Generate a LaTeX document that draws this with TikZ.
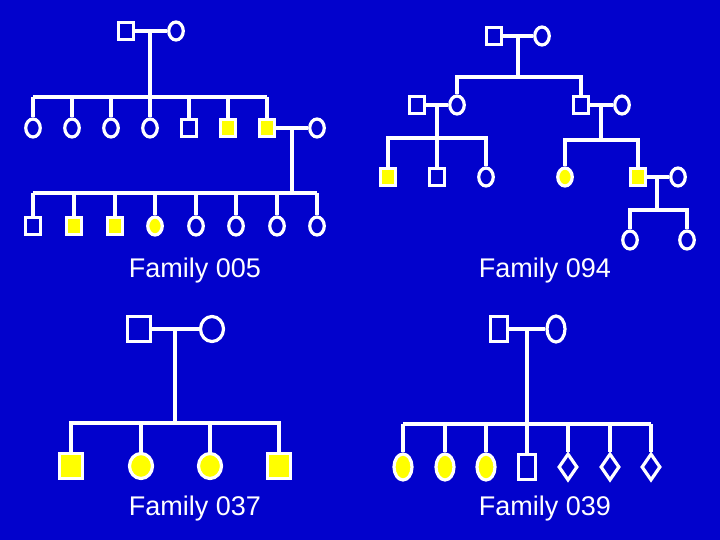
\documentclass[tikz,border=0pt]{standalone}
\usepackage{fontspec}
\setmainfont{Liberation Sans}
\usetikzlibrary{shapes.geometric}
\definecolor{bgblue}{RGB}{2,2,204}
\definecolor{aff}{RGB}{255,255,0}
\tikzset{
  ln/.style={draw=white, line width=3.2pt},
  sym/.style={ln, inner sep=0pt, fill=bgblue},
  sqA/.style={sym, rectangle, minimum width=15pt, minimum height=17pt},
  ciA/.style={sym, ellipse, minimum width=14.5pt, minimum height=18pt},
  sqB/.style={sym, rectangle, minimum width=23pt, minimum height=25pt},
  ciB/.style={sym, ellipse, minimum width=23pt, minimum height=25pt},
  sqC/.style={sym, rectangle, minimum width=17pt, minimum height=25pt},
  ciC/.style={sym, ellipse, minimum width=18pt, minimum height=26pt},
  diC/.style={sym, diamond, minimum width=19pt, minimum height=27pt},
  aff/.style={fill=aff},
  sqAf/.style={sqA, aff},
  ciAf/.style={ciA, aff},
  ciCf/.style={ciC, aff},
  lab/.style={text=white, font=\fontsize{27}{31}\selectfont, anchor=base, inner sep=0pt},
}
\begin{document}
\begin{tikzpicture}[x=1pt,y=-1pt]
\fill[bgblue] (0,0) rectangle (720,540);
\useasboundingbox (0,0) rectangle (720,540);
% ================= Family 005 =================
\node[sqA] (a0f) at (126,31) {};
\node[ciA] (a0m) at (176,31) {};
\foreach \x/\s [count=\i] in {33/ciA,72/ciA,111/ciA,150/ciA,189/sqA,228/sqAf,267/sqAf}
  \node[\s] (a1c\i) at (\x,128) {};
\node[ciA] (a1s) at (317,128) {};
\foreach \x/\s [count=\i] in {33/sqA,74/sqAf,115/sqAf,155/ciAf,196/ciA,236/ciA,277/ciA,317/ciA}
  \node[\s] (a2c\i) at (\x,226) {};
\coordinate (a0d) at (150,31);
\coordinate (a0b) at (150,97);
\coordinate (a1d) at (292,128);
\coordinate (a1b) at (292,193);
\draw[ln] (a0f) -- (a0m);
\draw[ln] (a0d) -- (a0b);
\draw[ln] (a1c1.north |- a0b) -- (a1c7.north |- a0b);
\foreach \i in {1,...,7} \draw[ln] (a1c\i.north) -- (a1c\i.north |- a0b);
\draw[ln] (a1c7) -- (a1s);
\draw[ln] (a1d) -- (a1b);
\draw[ln] (a2c1.north |- a1b) -- (a2c8.north |- a1b);
\foreach \i in {1,...,8} \draw[ln] (a2c\i.north) -- (a2c\i.north |- a1b);
\node[lab] (la) at (195,277) {Family 005};
% ================= Family 094 =================
\node[sqA] (b0f) at (494,36) {};
\node[ciA] (b0m) at (542,36) {};
\node[sqA] (b1h) at (417,105) {};
\node[ciA] (b1w) at (457,105) {};
\node[sqA] (b1s) at (581,105) {};
\node[ciA] (b1t) at (622,105) {};
\node[sqAf] (b2a) at (388,177) {};
\node[sqA] (b2b) at (437,177) {};
\node[ciA] (b2c) at (486,177) {};
\node[ciAf] (b2d) at (565,177) {};
\node[sqAf] (b2e) at (638,177) {};
\node[ciA] (b2s) at (678,177) {};
\node[ciA] (b3a) at (630,240) {};
\node[ciA] (b3b) at (687,240) {};
\coordinate (b0d) at (518,36);
\coordinate (b0b) at (518,77);
\coordinate (b1d) at (437,105);
\coordinate (b1b) at (437,138);
\coordinate (b1e) at (601,105);
\coordinate (b1c) at (601,140);
\coordinate (b2g) at (657,177);
\coordinate (b2h) at (657,210);
\draw[ln] (b0f) -- (b0m);
\draw[ln] (b0d) -- (b0b);
\draw[ln] (b1w.north) |- (b0b) -| (b1s.north);
\draw[ln] (b1h) -- (b1w);
\draw[ln] (b1d) -- (b1b);
\draw[ln] (b2a.north) |- (b1b) -| (b2c.north);
\draw[ln] (b1b) -- (b2b.north);
\draw[ln] (b1s) -- (b1t);
\draw[ln] (b1e) -- (b1c);
\draw[ln] (b2d.north) |- (b1c) -| (b2e.north);
\draw[ln] (b2e) -- (b2s);
\draw[ln] (b2g) -- (b2h);
\draw[ln] (b3a.north) |- (b2h) -| (b3b.north);
\node[lab] (lb) at (545,277) {Family 094};
% ================= Family 037 =================
\node[sqB] (c0f) at (139,329) {};
\node[ciB] (c0m) at (212,329) {};
\node[sqB,aff] (c1a) at (71,466) {};
\node[ciB,aff] (c1b) at (141,466) {};
\node[ciB,aff] (c1c) at (210,466) {};
\node[sqB,aff] (c1d) at (279,466) {};
\coordinate (c0d) at (175,329);
\coordinate (c0b) at (175,423);
\draw[ln] (c0f) -- (c0m);
\draw[ln] (c0d) -- (c0b);
\draw[ln] (c1a.north) |- (c0b) -| (c1d.north);
\draw[ln] (c1b.north) -- (c1b.north |- c0b);
\draw[ln] (c1c.north) -- (c1c.north |- c0b);
\node[lab] (lc) at (195,515) {Family 037};
% ================= Family 039 =================
\node[sqC] (d0f) at (499,329) {};
\node[ciC] (d0m) at (556,329) {};
\foreach \x/\s [count=\i] in {403/ciCf,445/ciCf,486/ciCf,527/sqC,568/diC,610/diC,651/diC}
  \node[\s] (d1c\i) at (\x,467) {};
\coordinate (d0d) at (527,329);
\coordinate (d0b) at (527,424);
\draw[ln] (d0f) -- (d0m);
\draw[ln] (d0d) -- (d0b);
\draw[ln] (d1c1.north |- d0b) -- (d1c7.north |- d0b);
\foreach \i in {1,...,7} \draw[ln] (d1c\i.north) -- (d1c\i.north |- d0b);
\node[lab] (ld) at (545,515) {Family 039};
\end{tikzpicture}
\end{document}
